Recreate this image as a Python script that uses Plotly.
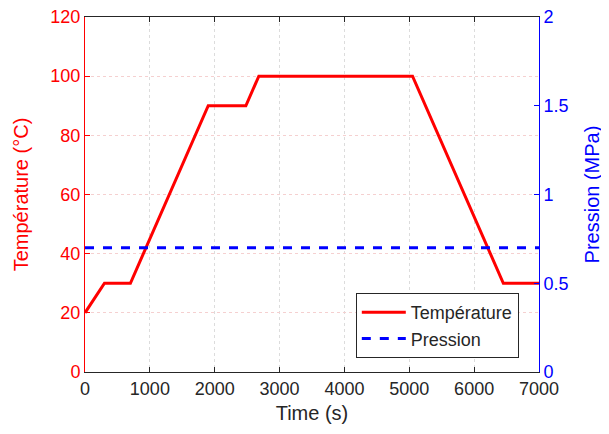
import plotly.graph_objects as go

time_s = [0, 300, 700, 1900, 2480, 2680, 5050, 6450, 7000]
temperature_c = [20, 30, 30, 90, 90, 100, 100, 30, 30]
pressure_time = [0, 7000]
pressure_mpa = [0.7, 0.7]

x_ticks = [0, 1000, 2000, 3000, 4000, 5000, 6000, 7000]
y1_ticks = [0, 20, 40, 60, 80, 100, 120]
y2_ticks = [0, 0.5, 1, 1.5, 2]
y2_labels = ["0", "0.5", "1", "1.5", "2"]

font_family = "Liberation Sans, Arial, sans-serif"
TICK = 18
TITLE = 20

fig = go.Figure()
fig.add_trace(go.Scatter(x=time_s, y=temperature_c, mode="lines", name="Température",
                         line=dict(color="#ff0000", width=3), yaxis="y"))
fig.add_trace(go.Scatter(x=pressure_time, y=pressure_mpa, mode="lines", name="Pression",
                         line=dict(color="#0000ff", width=3, dash="dash"), yaxis="y2"))

fig.update_layout(
    width=601, height=426,
    margin=dict(l=77, r=70, t=9, b=62, autoexpand=False),
    paper_bgcolor="white", plot_bgcolor="white",
    font=dict(family=font_family, size=TICK, color="#262626"),
    showlegend=True,
    legend=dict(x=0.776, y=0.131, xanchor="center", yanchor="middle",
                bgcolor="white", bordercolor="#262626", borderwidth=1,
                font=dict(size=18, color="#262626"), tracegroupgap=0,
                itemwidth=44),
    xaxis=dict(range=[0, 7000], tickvals=x_ticks, ticks="inside", ticklen=5,
               tickcolor="#262626", linecolor="#262626", showline=True, mirror="ticks",
               showgrid=True, gridcolor="#dcdcdc", griddash="dot", gridwidth=1,
               zeroline=False, automargin=False, ticklabeloverflow="allow",
               tickfont=dict(size=TICK, color="#262626"),
               title=dict(text="Time (s)", font=dict(size=TITLE, color="#262626"), standoff=8)),
    yaxis=dict(range=[0, 120], tickvals=y1_ticks, ticks="inside", ticklen=5,
               tickcolor="#ff0000", linecolor="#ff0000", showline=True,
               showgrid=True, gridcolor="#f5d0d0", griddash="dot", gridwidth=1,
               zeroline=False, automargin=False, ticklabeloverflow="allow",
               tickfont=dict(size=TICK, color="#ff0000"),
               title=dict(text="Température (°C)", font=dict(size=TITLE, color="#ff0000"), standoff=16)),
    yaxis2=dict(range=[0, 2], tickvals=y2_ticks, ticktext=y2_labels, overlaying="y", side="right",
                ticks="inside", ticklen=5, tickcolor="#0000ff", linecolor="#0000ff", showline=True,
                showgrid=False, zeroline=False, automargin=False, ticklabeloverflow="allow",
                tickfont=dict(size=TICK, color="#0000ff"),
                title=dict(text="Pression (MPa)", font=dict(size=TITLE, color="#0000ff"), standoff=17)),
)

fig.write_html("out.html")
